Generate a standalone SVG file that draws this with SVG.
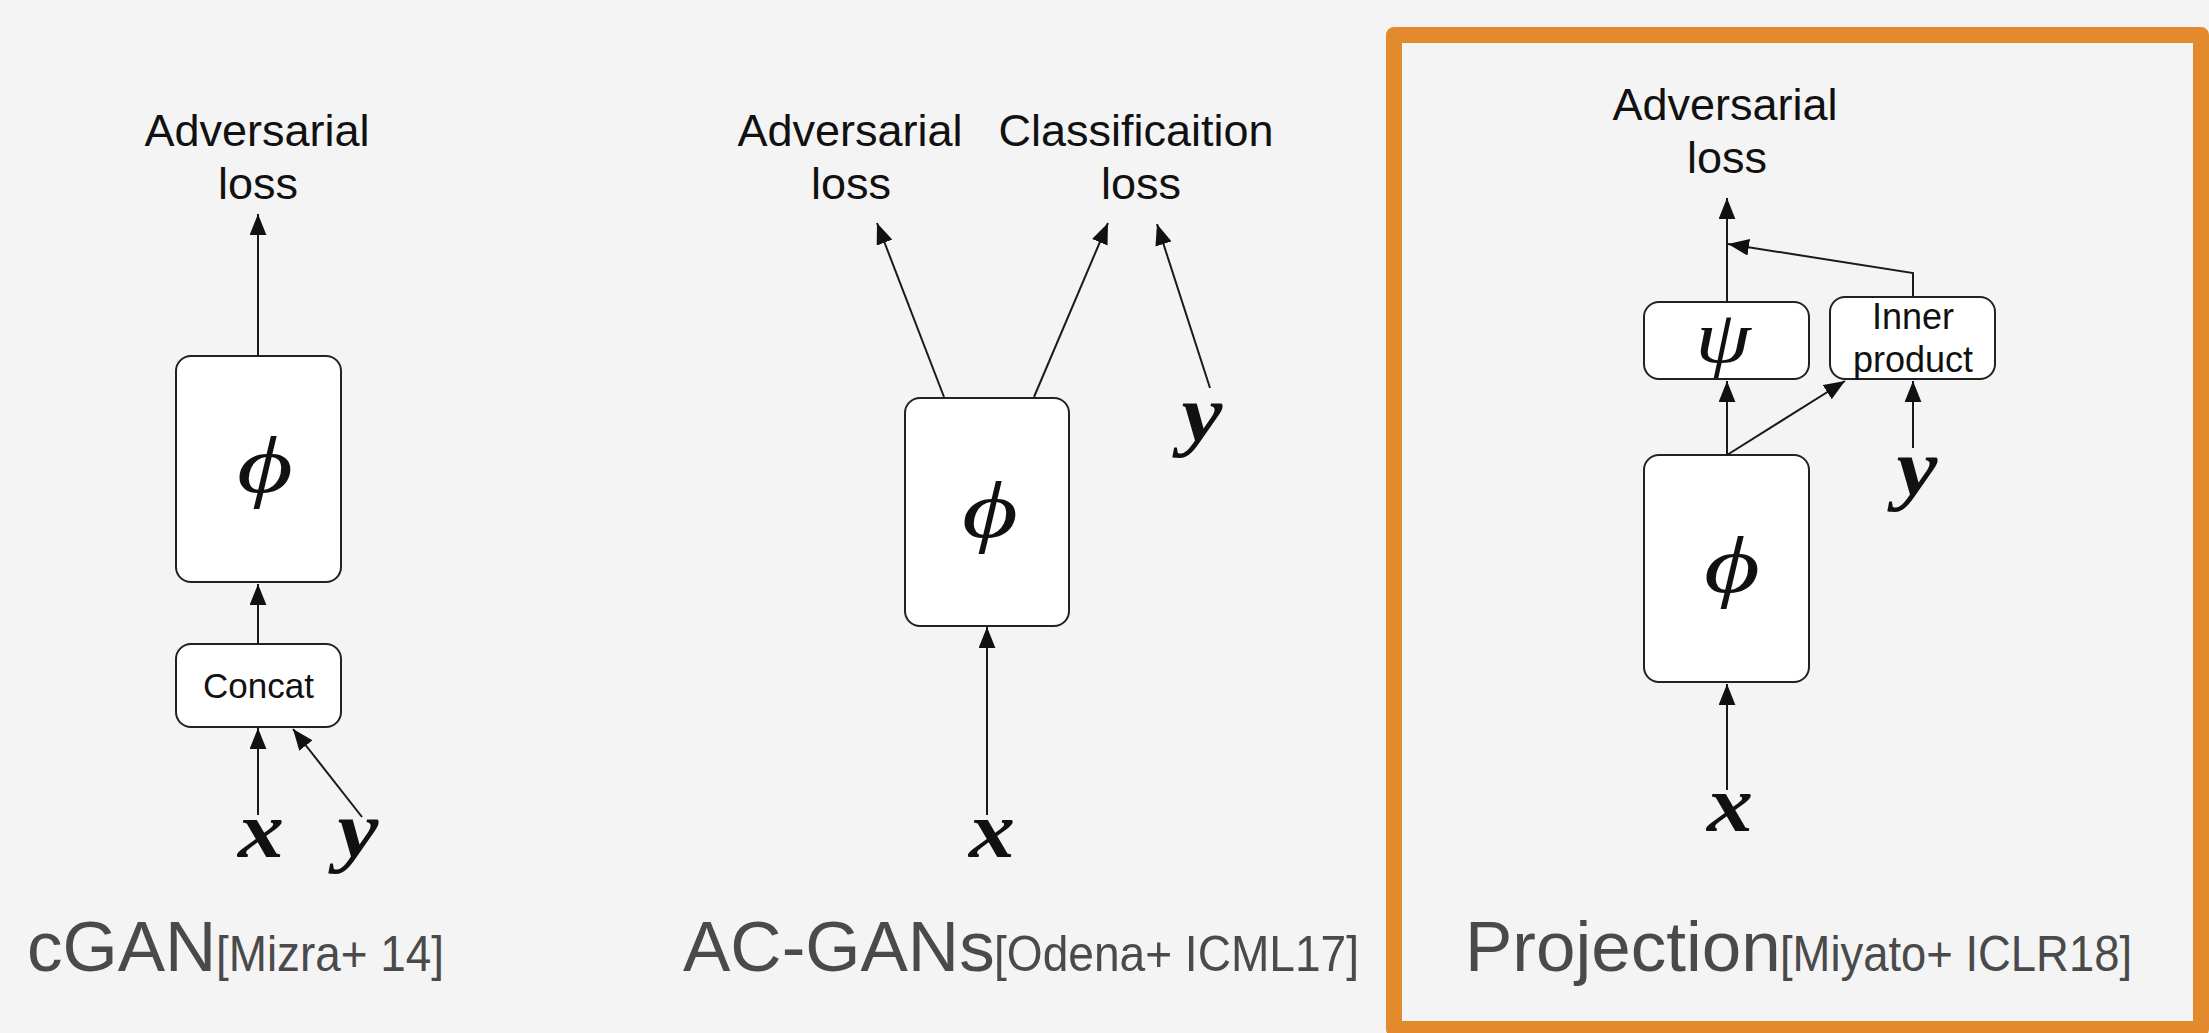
<svg xmlns="http://www.w3.org/2000/svg" width="2209" height="1033" viewBox="0 0 2209 1033">
  <defs>
    <marker id="arr" viewBox="0 0 20 16" refX="20" refY="8" markerWidth="21" markerHeight="17" markerUnits="userSpaceOnUse" orient="auto">
      <path d="M0,0 L20,8 L0,16 z" fill="#111"/>
    </marker>
    <style>
      .box { fill: #ffffff; stroke: #222; stroke-width: 2; }
      .lbl { font-family: "Liberation Sans", Arial, sans-serif; font-size: 45px; fill: #111; text-anchor: middle; }
      .small { font-family: "Liberation Sans", Arial, sans-serif; fill: #111; text-anchor: middle; }
      .greek { font-family: "Liberation Serif", "DejaVu Serif", serif; font-style: italic; fill: #111; text-anchor: middle; }
      .var { font-family: "Liberation Serif", "DejaVu Serif", serif; font-style: italic; font-weight: bold; font-size: 80px; fill: #111; text-anchor: middle; }
      .cap { font-family: "Liberation Sans", Arial, sans-serif; font-size: 71px; fill: #4a4a4a; }
      .ref { font-family: "Liberation Sans", Arial, sans-serif; font-size: 50px; fill: #4a4a4a; }
      .conn { stroke: #1a1a1a; stroke-width: 2; fill: none; marker-end: url(#arr); }
    </style>
  </defs>

  <rect x="0" y="0" width="2209" height="1033" fill="#f4f4f4"/>

  <!-- highlight frame for Projection panel -->
  <rect id="highlight" x="1394" y="35" width="807" height="994" fill="none" stroke="#e38b2c" stroke-width="16" stroke-linejoin="round"/>

  <!-- Panel 1: cGAN -->
  <g id="cgan-adv-loss">
    <text class="lbl" x="257" y="146">Adversarial</text>
    <text class="lbl" x="258" y="199">loss</text>
  </g>
  <g id="cgan-phi">
    <rect class="box" x="176" y="356" width="165" height="226" rx="15"/>
    <text class="greek" transform="translate(265,492) scale(1.35,1)" font-size="80">ϕ</text>
  </g>
  <g id="cgan-concat">
    <rect class="box" x="176" y="644" width="165" height="83" rx="15"/>
    <text class="small" x="258.5" y="698" font-size="35">Concat</text>
  </g>
  <g id="cgan-x"><text class="var" transform="translate(261,857) scale(1.15,1)">x</text></g>
  <g id="cgan-y"><text class="var" transform="translate(358,857) scale(1.15,1)">y</text></g>

  <!-- Panel 2: AC-GANs -->
  <g id="ac-adv-loss">
    <text class="lbl" x="850" y="146">Adversarial</text>
    <text class="lbl" x="851" y="199">loss</text>
  </g>
  <g id="ac-cls-loss">
    <text class="lbl" x="1136" y="146">Classificaition</text>
    <text class="lbl" x="1141" y="199">loss</text>
  </g>
  <g id="ac-phi">
    <rect class="box" x="905" y="398" width="164" height="228" rx="15"/>
    <text class="greek" transform="translate(990,537) scale(1.35,1)" font-size="80">ϕ</text>
  </g>
  <g id="ac-x"><text class="var" transform="translate(992,857) scale(1.15,1)">x</text></g>
  <g id="ac-y"><text class="var" transform="translate(1202,441) scale(1.15,1)">y</text></g>

  <!-- Panel 3: Projection -->
  <g id="proj-adv-loss">
    <text class="lbl" x="1725" y="120">Adversarial</text>
    <text class="lbl" x="1727" y="173">loss</text>
  </g>
  <g id="proj-psi">
    <rect class="box" x="1644" y="302" width="165" height="77" rx="15"/>
    <text class="greek" transform="translate(1723,362) scale(1.2,1)" font-size="74">ψ</text>
  </g>
  <g id="proj-inner">
    <rect class="box" x="1830" y="297" width="165" height="82" rx="15"/>
    <text class="small" x="1913" y="329" font-size="36">Inner</text>
    <text class="small" x="1913" y="372" font-size="36">product</text>
  </g>
  <g id="proj-phi">
    <rect class="box" x="1644" y="455" width="165" height="227" rx="15"/>
    <text class="greek" transform="translate(1732,592) scale(1.35,1)" font-size="80">ϕ</text>
  </g>
  <g id="proj-x"><text class="var" transform="translate(1730,831) scale(1.15,1)">x</text></g>
  <g id="proj-y"><text class="var" transform="translate(1917,495) scale(1.15,1)">y</text></g>

  <!-- Connectors -->
  <g id="connectors">
    <line class="conn" x1="258" y1="356" x2="258" y2="214"/>
    <line class="conn" x1="258" y1="644" x2="258" y2="584"/>
    <line class="conn" x1="258" y1="815" x2="258" y2="728"/>
    <line class="conn" x1="362" y1="817" x2="293" y2="729"/>

    <line class="conn" x1="944" y1="397" x2="877" y2="223"/>
    <line class="conn" x1="1034" y1="397" x2="1108" y2="223"/>
    <line class="conn" x1="1210" y1="388" x2="1157" y2="224"/>
    <line class="conn" x1="987" y1="815" x2="987" y2="627"/>

    <line class="conn" x1="1727" y1="302" x2="1727" y2="198"/>
    <polyline class="conn" points="1913,297 1913,273 1728,244"/>
    <line class="conn" x1="1727" y1="455" x2="1727" y2="381"/>
    <line class="conn" x1="1727" y1="455" x2="1845" y2="381"/>
    <line class="conn" x1="1913" y1="448" x2="1913" y2="381"/>
    <line class="conn" x1="1727" y1="790" x2="1727" y2="684"/>
  </g>

  <!-- Captions -->
  <g id="captions">
    <text class="cap" x="27" y="971">cGAN</text>
    <text class="ref" x="216" y="971" textLength="228" lengthAdjust="spacingAndGlyphs">[Mizra+ 14]</text>
    <text class="cap" x="683" y="971">AC-GANs</text>
    <text class="ref" x="994" y="971" textLength="365" lengthAdjust="spacingAndGlyphs">[Odena+ ICML17]</text>
    <text class="cap" x="1465" y="971">Projection</text>
    <text class="ref" x="1780" y="971" textLength="352" lengthAdjust="spacingAndGlyphs">[Miyato+ ICLR18]</text>
  </g>
</svg>
